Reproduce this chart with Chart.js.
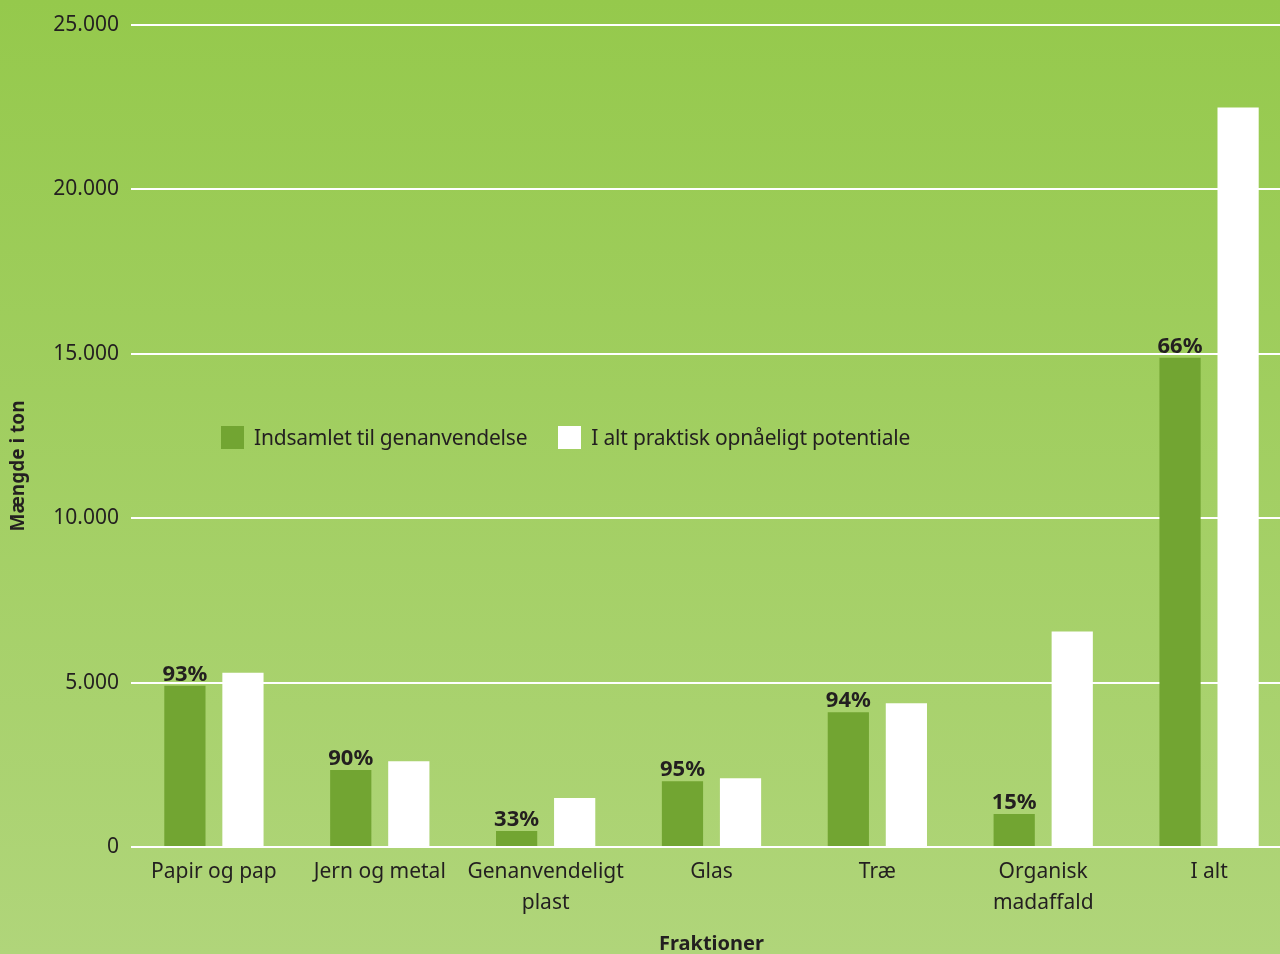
<!DOCTYPE html>
<html lang="da">
<head>
<meta charset="UTF-8">
<title>Fraktioner</title>
<script src="https://cdn.jsdelivr.net/npm/chart.js"></script>
<style>
  html, body { margin: 0; padding: 0; overflow: hidden; }
  body { width: 1280px; height: 954px; background: linear-gradient(#95c94c, #b0d57a); font-family: "Noto Sans", sans-serif; color: #231f20; position: relative; }
  #wrap { position: absolute; left: 0; top: 0; width: 1292px; height: 956px; }
  #legend { position: absolute; left: 221px; top: 423px; display: flex; align-items: center; font-size: 21px; letter-spacing: -0.2px; }
  #legend span.box { display: inline-block; width: 23px; height: 23px; margin-right: 10px; }
  #legend span.item { display: flex; align-items: center; margin-right: 31px; }
</style>
</head>
<body>
<div id="wrap"><canvas id="chart"></canvas></div>
<div id="legend"></div>

<script>
  // data
  const categories = ["Papir og pap", "Jern og metal", ["Genanvendeligt", "plast"], "Glas", "Træ", ["Organisk", "madaffald"], "I alt"];
  const collected = [4900, 2340, 490, 2000, 4100, 1000, 14870];
  const potential = [5300, 2610, 1490, 2090, 4370, 6550, 22480];
  const pctLabels = ["93%", "90%", "33%", "95%", "94%", "15%", "66%"];
  const seriesNames = ["Indsamlet til genanvendelse", "I alt praktisk opnåeligt potentiale"];
  const yTicks = [0, 5000, 10000, 15000, 20000, 25000];

  const GREEN = "#72a532";
  const TEXT = "#231f20";

  // legend (html)
  const legend = document.getElementById("legend");
  [GREEN, "#ffffff"].forEach(function (c, i) {
    const item = document.createElement("span");
    item.className = "item";
    item.innerHTML = '<span class="box" style="background:' + c + '"></span>' + seriesNames[i];
    legend.appendChild(item);
  });

  // percentages above green bars + y axis title
  const extras = {
    id: "extras",
    afterDatasetsDraw(chart) {
      const ctx = chart.ctx;
      const meta = chart.getDatasetMeta(0);
      ctx.save();
      ctx.fillStyle = TEXT;
      ctx.font = "bold 22px 'Noto Sans'";
      ctx.textAlign = "center";
      ctx.textBaseline = "bottom";
      meta.data.forEach(function (bar, i) {
        ctx.fillText(pctLabels[i], bar.x, bar.y);
      });
      ctx.translate(19, 466);
      ctx.rotate(-Math.PI / 2);
      ctx.textBaseline = "middle";
      ctx.font = "bold 19px 'Noto Sans'";
      ctx.fillText("Mængde i ton", 0, 0);
      ctx.restore();
    }
  };

  new Chart(document.getElementById("chart"), {
    type: "bar",
    data: {
      labels: categories,
      datasets: [
        { label: seriesNames[0], data: collected, backgroundColor: GREEN },
        { label: seriesNames[1], data: potential, backgroundColor: "#ffffff" }
      ]
    },
    options: {
      responsive: true,
      maintainAspectRatio: false,
      animation: false,
      layout: { padding: { top: 23, right: 0, left: 0, bottom: 0 } },
      datasets: { bar: { categoryPercentage: 0.7, barPercentage: 0.71 } },
      plugins: { legend: { display: false }, tooltip: { enabled: false } },
      scales: {
        x: {
          grid: { display: false },
          border: { display: false },
          ticks: { color: TEXT, font: { family: "Noto Sans", size: 21, lineHeight: 1.48 }, padding: 1, maxRotation: 0, autoSkip: false },
          title: { display: true, text: "Fraktioner", color: TEXT, font: { family: "Noto Sans", size: 20, weight: "bold" }, padding: { top: 12, bottom: 0 } },
          afterFit(scale) { scale.height = 109; }
        },
        y: {
          min: 0,
          max: 25000,
          afterBuildTicks(scale) { scale.ticks = yTicks.map(function (v) { return { value: v }; }); },
          grid: { color: "#ffffff", lineWidth: 2, drawTicks: false },
          border: { display: false },
          ticks: {
            color: TEXT,
            padding: 12,
            font: { family: "Noto Sans", size: 21 },
            callback: function (v) { return v.toLocaleString("da-DK"); }
          },
          afterFit(scale) { scale.width = 131; }
        }
      }
    },
    plugins: [extras]
  });
</script>
</body>
</html>
